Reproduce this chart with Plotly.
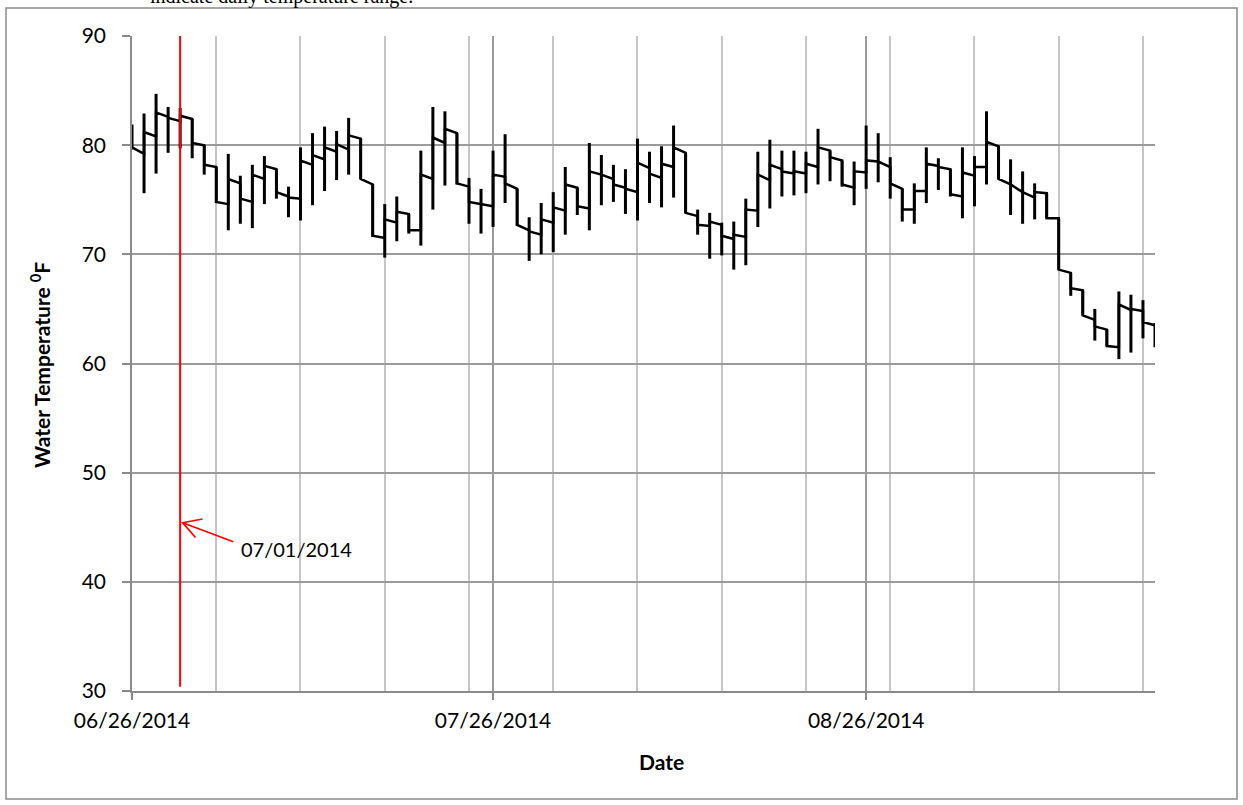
import plotly.graph_objects as go
import pandas as pd

# ---- data ----
dates = pd.date_range("2014-06-26", periods=86, freq="D")

# value at the start of each day's segment (days 0..84)
day_start = [79.8, 81.2, 83.0, 82.5, 82.7, 80.2, 78.2, 74.8, 76.9, 75.1,
             77.3, 78.1, 75.7, 75.2, 78.6, 79.1, 79.8, 80.1, 80.9, 76.9,
             71.7, 73.2, 73.9, 72.2, 77.3, 80.7, 81.5, 76.5, 74.8, 74.6,
             77.3, 76.5, 72.7, 72.1, 73.2, 74.3, 76.4, 74.4, 77.6, 77.3,
             76.4, 76.0, 78.4, 77.4, 78.3, 79.8, 73.8, 72.7, 73.0, 71.7,
             71.8, 74.1, 77.3, 78.2, 77.6, 77.6, 78.3, 79.8, 78.9, 76.4,
             77.6, 78.6, 78.5, 76.5, 74.1, 75.8, 78.3, 78.0, 75.5, 77.5,
             78.0, 80.3, 76.9, 76.4, 75.7, 75.7, 73.3, 68.6, 66.9, 64.4,
             63.4, 61.6, 65.4, 65.0, 63.8]
# value at the end of each day's segment (reached at the next day)
day_end = [79.2, 80.8, 82.6, 82.2, 82.4, 80.0, 78.0, 74.6, 76.5, 74.8,
           76.9, 77.8, 75.3, 75.1, 78.2, 78.7, 79.4, 79.6, 80.6, 76.4,
           71.5, 72.9, 73.7, 72.2, 76.9, 80.2, 81.1, 76.2, 74.6, 74.4,
           77.1, 76.0, 72.2, 71.8, 72.9, 74.0, 76.1, 74.2, 77.3, 76.9,
           76.1, 75.7, 77.9, 77.0, 78.0, 79.3, 73.5, 72.6, 72.7, 71.4,
           71.6, 74.0, 76.8, 77.8, 77.4, 77.4, 78.0, 79.5, 78.6, 76.1,
           77.5, 78.5, 78.0, 76.0, 74.1, 75.8, 78.1, 77.8, 75.3, 77.2,
           78.0, 79.9, 76.4, 75.7, 75.2, 75.6, 73.3, 68.3, 66.7, 64.0,
           63.1, 61.5, 64.9, 64.8, 63.5]
# daily high / low (days 0..85)
day_high = [81.9, 82.9, 84.7, 83.5, 83.4, 82.4, 80.0, 78.0, 79.2, 77.2,
            78.2, 79.0, 77.8, 76.2, 79.8, 81.1, 81.7, 81.3, 82.5, 80.6,
            76.4, 74.6, 75.3, 73.7, 79.5, 83.5, 83.1, 81.1, 77.0, 76.0,
            79.5, 81.0, 76.0, 73.4, 74.7, 75.7, 78.0, 76.1, 80.2, 79.1,
            78.2, 77.8, 80.6, 79.4, 79.9, 81.8, 79.3, 74.1, 73.8, 72.9,
            73.0, 75.1, 79.4, 80.5, 79.5, 79.5, 79.4, 81.5, 79.5, 78.6,
            78.5, 81.8, 81.1, 78.9, 76.0, 76.5, 79.8, 78.8, 77.8, 79.8,
            79.0, 83.1, 79.9, 78.7, 77.6, 76.5, 75.6, 73.3, 68.3, 66.7,
            65.0, 63.1, 66.6, 66.3, 65.8, 63.7]
day_low = [79.6, 75.6, 77.4, 79.3, 79.7, 78.8, 77.3, 74.7, 72.2, 72.8,
           72.4, 74.6, 75.1, 73.4, 73.1, 74.5, 75.8, 76.8, 77.3, 76.9,
           71.6, 69.7, 71.2, 71.9, 70.8, 74.1, 76.3, 76.4, 72.8, 71.9,
           72.5, 74.7, 72.6, 69.4, 70.0, 70.2, 71.8, 73.6, 72.2, 74.5,
           74.8, 73.7, 73.1, 74.7, 74.3, 75.2, 73.8, 71.8, 69.6, 69.9,
           68.6, 69.0, 72.5, 74.2, 75.3, 75.4, 75.6, 76.4, 76.7, 76.2,
           74.5, 76.0, 76.6, 75.1, 73.0, 72.8, 74.7, 75.9, 75.3, 73.3,
           74.4, 76.4, 76.9, 73.6, 72.8, 73.2, 73.3, 68.6, 66.2, 64.4,
           62.1, 61.6, 60.4, 61.0, 62.3, 61.5]

x_tick_dates = ["2014-06-26", "2014-07-26", "2014-08-26"]
x_tick_text = ["06/26/2014", "07/26/2014", "08/26/2014"]
y_ticks = [30, 40, 50, 60, 70, 80, 90]
marker_date = "2014-06-30"
marker_label = "07/01/2014"
doc_text = "indicate daily temperature range."

# ---- build traces ----
px_, py_ = [], []
for i in range(len(day_start)):
    px_ += [dates[i], dates[i + 1]]
    py_ += [day_start[i], day_end[i]]

bx, by = [], []
for d, lo, hi in zip(dates, day_low, day_high):
    bx += [d, d, None]
    by += [lo, hi, None]

FONT = "Lato, 'Open Sans', sans-serif"

fig = go.Figure()
fig.add_trace(go.Scatter(x=bx, y=by, mode="lines",
                         line=dict(color="black", width=3),
                         hoverinfo="skip", showlegend=False))
fig.add_trace(go.Scatter(x=px_, y=py_, mode="lines",
                         line=dict(color="black", width=2.5),
                         showlegend=False))

L, R, T, B = 132, 1155, 36, 691
W, H = 1243, 805


def pxx(p):
    return (p - L) / (R - L)


def pyy(p):
    return (B - p) / (B - T)


grid_major = "#9b9b9b"
grid_minor = "#c6c6c6"
axis_col = "#8a8a8a"

fig.update_layout(
    width=W, height=H,
    margin=dict(l=L, r=W - R, t=T, b=H - B, pad=0),
    paper_bgcolor="white", plot_bgcolor="white",
    font=dict(family=FONT, size=21, color="black"),
    xaxis=dict(
        type="date", range=["2014-06-26", "2014-09-19"],
        tickmode="array", tickvals=x_tick_dates, ticktext=x_tick_text,
        showgrid=True, gridcolor=grid_major, gridwidth=1.5,
        minor=dict(tick0="2014-06-26", dtick=7 * 86400000, showgrid=True,
                   gridcolor=grid_minor, gridwidth=1.5),
        showline=True, linecolor=axis_col, linewidth=1.5,
        ticks="outside", ticklen=7, tickcolor=axis_col, tickwidth=1.5,
        ticklabelstandoff=3, zeroline=False,
        tickfont=dict(family=FONT, size=21, color="black"),
    ),
    yaxis=dict(
        range=[30, 90], tickvals=y_ticks,
        showgrid=True, gridcolor=grid_major, gridwidth=1.5,
        showline=True, linecolor=axis_col, linewidth=1.5,
        ticks="outside", ticklen=8, tickcolor=axis_col, tickwidth=1.5,
        ticklabelstandoff=12, zeroline=False,
        tickfont=dict(family=FONT, size=21, color="black"),
    ),
)

# red marker line
fig.add_shape(type="line", xref="x", yref="y", x0=marker_date, x1=marker_date,
              y0=30.4, y1=90.2, line=dict(color="red", width=2), layer="above")

# arrow (open V head)
tip = (182.7, 522.7)
tail = (233.3, 541.7)
arm1 = (202.5, 519.0)
arm2 = (195.5, 537.5)
fig.add_shape(type="line", xref="paper", yref="paper",
              x0=pxx(tail[0]), y0=pyy(tail[1]), x1=pxx(tip[0]), y1=pyy(tip[1]),
              line=dict(color="red", width=1.7), layer="above")
fig.add_shape(type="path", xref="paper", yref="paper",
              path=f"M {pxx(arm1[0])},{pyy(arm1[1])} L {pxx(tip[0])},{pyy(tip[1])} L {pxx(arm2[0])},{pyy(arm2[1])}",
              line=dict(color="red", width=1.7), layer="above")

fig.add_annotation(xref="paper", yref="paper", x=pxx(239), y=pyy(549),
                   text=marker_label, showarrow=False, xanchor="left", yanchor="middle",
                   font=dict(family=FONT, size=20, color="black"))

# axis titles
fig.add_annotation(xref="paper", yref="paper", x=pxx(661), y=pyy(761),
                   text="<b>Date</b>", showarrow=False, xanchor="center", yanchor="middle",
                   font=dict(family=FONT, size=21, color="black"))
fig.add_annotation(xref="paper", yref="paper", x=pxx(40), y=pyy(365),
                   text="<b>Water Temperature <sup>0</sup>F</b>", showarrow=False,
                   textangle=-90, xanchor="center", yanchor="middle",
                   font=dict(family=FONT, size=21, color="black"))

# clipped document text above the chart
fig.add_annotation(xref="paper", yref="paper", x=pxx(148), y=pyy(-3),
                   text=doc_text, showarrow=False, xanchor="left", yanchor="middle",
                   font=dict(family="Liberation Serif, serif", size=20, color="black"))

# outer chart border
fig.add_shape(type="rect", xref="paper", yref="paper",
              x0=pxx(6), x1=pxx(1237), y0=pyy(799), y1=pyy(8),
              line=dict(color="#8a8a8a", width=1.5), layer="below")

fig.write_html("out.html", config={"displayModeBar": False},
               post_script="document.body.style.margin='0';document.body.style.overflow='hidden';")
